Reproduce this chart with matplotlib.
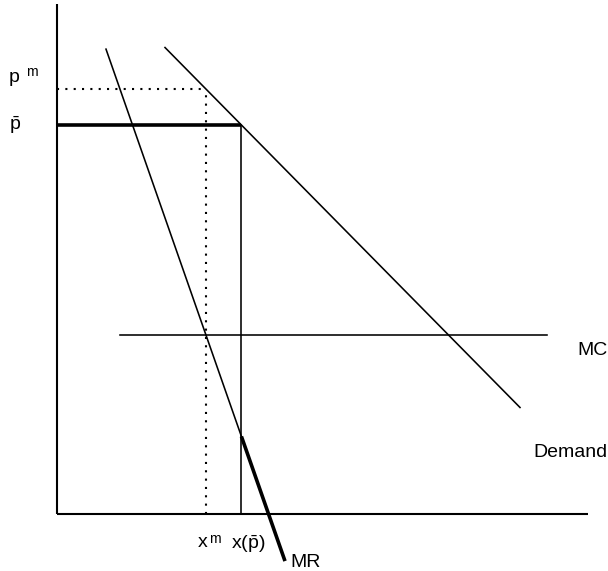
import matplotlib
matplotlib.use("Agg")
import matplotlib.pyplot as plt
import numpy as np

plt.rcParams['font.family'] = ['Liberation Sans', 'DejaVu Sans']
plt.rcParams['mathtext.fontset'] = 'custom'
plt.rcParams['mathtext.rm'] = 'Liberation Sans'
plt.rcParams['mathtext.it'] = 'Liberation Sans'

# monopoly with a price ceiling (quantity x, price p)
demand_a, demand_b = 576.0, 1.014      # p = a - b x
mr_a, mr_b = 605.0, 2.86               # MR = a - b x
mc = 179.0
p_bar = 389.0

demand_x = [108, 463]
mr_x = [49, 228]
mc_x = [63, 490]
axis_x = [0, 531]
axis_p = [0, 510]

x_m = (mr_a - mc) / mr_b
p_m = demand_a - demand_b * x_m
x_pbar = (demand_a - p_bar) / demand_b

fig = plt.figure(figsize=(6.08, 5.71), dpi=100)
ax = fig.add_axes([0, 0, 1, 1])
ax.set_xlim(-57, 551)
ax.set_ylim(-57, 514)
ax.axis('off')

k = 'black'
# axes
ax.plot([0, 0], axis_p, color=k, lw=1.5, solid_capstyle='butt')
ax.plot(axis_x, [0, 0], color=k, lw=1.5, solid_capstyle='butt')

# demand
dx = np.array(demand_x, dtype=float)
ax.plot(dx, demand_a - demand_b * dx, color=k, lw=1.15)

# marginal revenue: thin above x(p_bar), thick below
mx1 = np.array([mr_x[0], x_pbar])
mx2 = np.array([x_pbar, mr_x[1]])
ax.plot(mx1, mr_a - mr_b * mx1, color=k, lw=1.15)
ax.plot(mx2, mr_a - mr_b * mx2, color=k, lw=2.6, solid_capstyle='butt')

# marginal cost
ax.plot(mc_x, [mc, mc], color=k, lw=1.15)

# price ceiling
ax.plot([0, x_pbar], [p_bar, p_bar], color=k, lw=2.6, solid_capstyle='butt')
ax.plot([x_pbar, x_pbar], [0, p_bar], color=k, lw=1.15)

# monopoly price / quantity
dots = (0, (1, 3))
ax.plot([0, x_m], [p_m, p_m], color=k, lw=1.5, linestyle=dots)
ax.plot([x_m, x_m], [0, p_m], color=k, lw=1.5, linestyle=dots)

fs = 14
ax.text(-48, 432, 'p', fontsize=fs, ha='left', va='baseline')
ax.text(-31, 438, 'm', fontsize=10, ha='left', va='baseline')
ax.text(-48, 384, r'$\bar{\mathrm{p}}$', fontsize=fs, ha='left', va='baseline')
ax.text(141, -33, 'x', fontsize=fs, ha='left', va='baseline')
ax.text(152, -29, 'm', fontsize=10, ha='left', va='baseline')
ax.text(174, -35, r'x($\bar{\mathrm{p}}$)', fontsize=fs, ha='left', va='baseline')
ax.text(233, -53, 'MR', fontsize=fs, ha='left', va='baseline')
ax.text(520, 159, 'MC', fontsize=fs, ha='left', va='baseline')
ax.text(476, 57, 'Demand', fontsize=fs, ha='left', va='baseline')

fig.savefig('out.png', dpi=100)
